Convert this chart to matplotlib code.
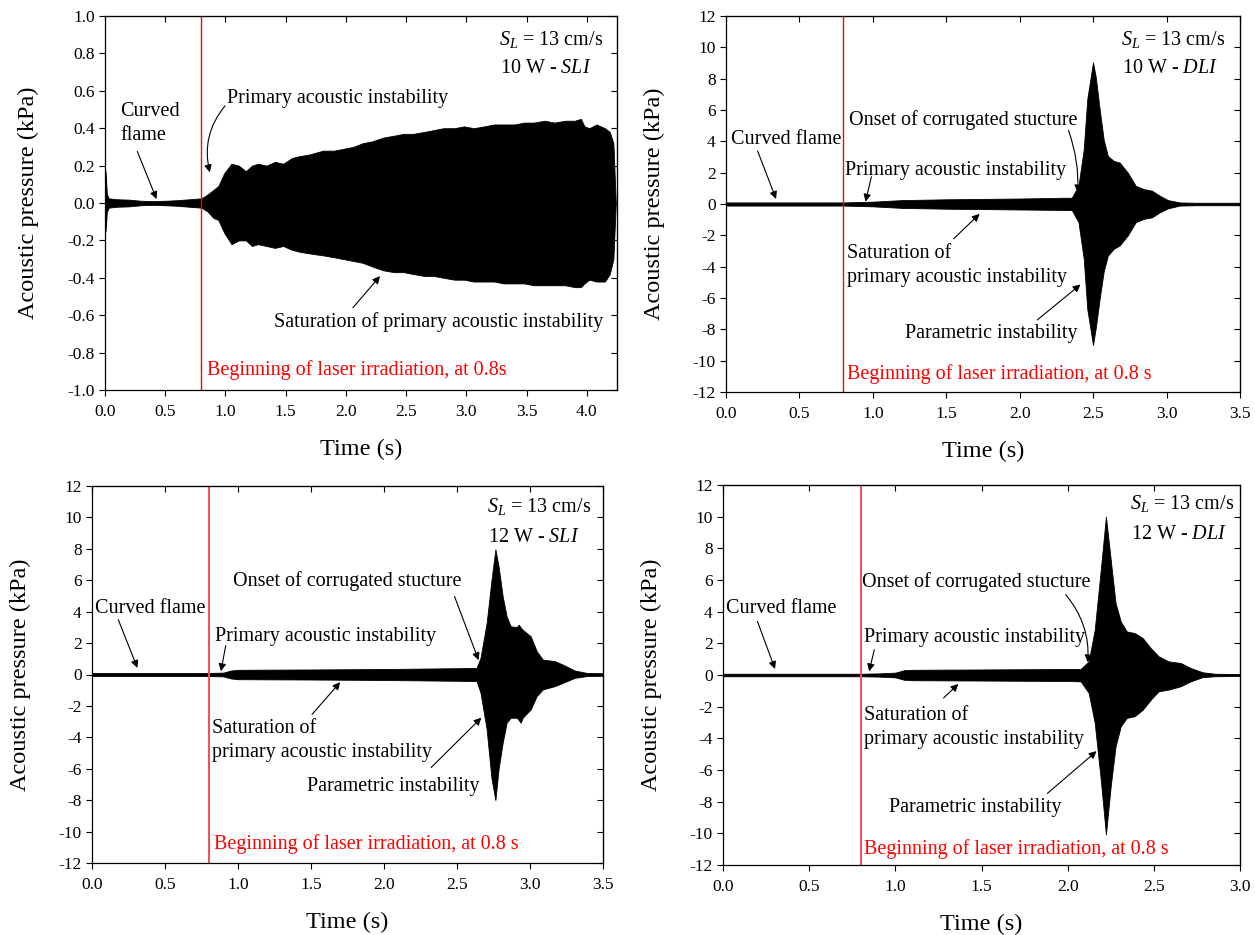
import matplotlib
matplotlib.use("Agg")
import matplotlib.pyplot as plt
import numpy as np

plt.rcParams['font.family'] = ['Liberation Serif', 'DejaVu Serif']
plt.rcParams['mathtext.fontset'] = 'custom'
plt.rcParams['mathtext.rm'] = 'Liberation Serif'
plt.rcParams['mathtext.it'] = 'Liberation Serif:italic'
plt.rcParams['axes.unicode_minus'] = False

# ---------------- data (signal envelopes) ----------------
# Panel 1: 10 W - SLI
p1_t = [0.0, 0.005, 0.015, 0.03, 0.1, 0.2, 0.3, 0.4, 0.5, 0.6, 0.7, 0.8, 0.85, 0.9,
        0.94, 0.99, 1.05, 1.11, 1.17, 1.22, 1.27, 1.34, 1.41, 1.48, 1.55, 1.61, 1.7,
        1.81, 1.9, 1.98, 2.06, 2.14, 2.22, 2.31, 2.4, 2.48, 2.56, 2.65, 2.73, 2.81,
        2.9, 2.98, 3.06, 3.15, 3.23, 3.31, 3.4, 3.48, 3.56, 3.65, 3.73, 3.82, 3.9,
        3.95, 3.98, 4.02, 4.08, 4.15, 4.19, 4.22, 4.24]
p1_upper = [0.0, 0.17, 0.05, 0.025, 0.02, 0.018, 0.012, 0.01, 0.012, 0.015, 0.02, 0.025, 0.045, 0.07,
            0.09, 0.16, 0.21, 0.2, 0.17, 0.2, 0.21, 0.2, 0.22, 0.21, 0.24, 0.25, 0.26,
            0.28, 0.28, 0.29, 0.3, 0.32, 0.33, 0.35, 0.36, 0.37, 0.37, 0.38, 0.39, 0.4,
            0.4, 0.41, 0.4, 0.41, 0.42, 0.42, 0.42, 0.43, 0.43, 0.44, 0.43, 0.44, 0.44,
            0.45, 0.41, 0.40, 0.42, 0.40, 0.38, 0.32, 0.0]
p1_lower = [0.0, -0.15, -0.05, -0.025, -0.02, -0.018, -0.012, -0.01, -0.012, -0.015, -0.02, -0.025, -0.045, -0.08,
            -0.09, -0.16, -0.22, -0.2, -0.2, -0.23, -0.22, -0.23, -0.24, -0.23, -0.25, -0.26, -0.27,
            -0.28, -0.29, -0.3, -0.31, -0.32, -0.34, -0.36, -0.37, -0.37, -0.38, -0.39, -0.39, -0.4,
            -0.41, -0.41, -0.42, -0.42, -0.42, -0.43, -0.43, -0.43, -0.44, -0.44, -0.44, -0.44, -0.45,
            -0.45, -0.43, -0.41, -0.42, -0.42, -0.38, -0.3, 0.0]

# Panel 2: 10 W - DLI
p2_t = [0.0, 0.8, 1.0, 1.2, 1.5, 2.0, 2.3, 2.354, 2.40, 2.436, 2.46, 2.499, 2.518, 2.545,
        2.572, 2.60, 2.64, 2.68, 2.736, 2.79, 2.845, 2.90, 2.954, 3.009, 3.09, 3.2, 3.5]
p2_upper = [0.1, 0.1, 0.15, 0.25, 0.3, 0.35, 0.4, 0.4, 1.16, 3.5, 6.7, 9.04, 8.1, 6.0,
            4.1, 3.07, 2.75, 2.65, 2.0, 1.16, 0.95, 0.85, 0.53, 0.25, 0.1, 0.08, 0.08]
p2_lower = [-0.1, -0.1, -0.15, -0.25, -0.3, -0.35, -0.38, -0.38, -1.16, -3.5, -6.7, -9.0, -7.9, -6.0,
            -4.3, -3.3, -2.86, -2.65, -2.0, -1.16, -0.95, -0.85, -0.53, -0.28, -0.1, -0.08, -0.08]

# Panel 3: 12 W - SLI
p3_t = [0.0, 0.8, 0.9, 0.95, 1.0, 1.5, 2.0, 2.5, 2.634, 2.661, 2.703, 2.736, 2.763, 2.785,
        2.813, 2.84, 2.868, 2.909, 2.923, 2.936, 2.95, 3.005, 3.046, 3.088, 3.17, 3.225,
        3.308, 3.39, 3.5]
p3_upper = [0.1, 0.1, 0.12, 0.25, 0.3, 0.32, 0.35, 0.4, 0.42, 1.06, 3.28, 6.0, 7.97, 6.87,
            4.97, 3.7, 3.07, 3.02, 3.17, 3.0, 2.85, 2.43, 1.48, 0.95, 0.85, 0.63,
            0.25, 0.1, 0.08]
p3_lower = [-0.1, -0.1, -0.12, -0.25, -0.3, -0.32, -0.35, -0.4, -0.42, -1.16, -3.49, -6.6, -7.99, -6.0,
            -4.33, -3.07, -2.75, -2.75, -2.9, -3.07, -2.75, -2.22, -1.37, -0.95, -0.74, -0.53,
            -0.21, -0.1, -0.08]

# Panel 4: 12 W - DLI
p4_t = [0.0, 0.8, 0.9, 1.0, 1.05, 1.1, 1.5, 2.0, 2.075, 2.122, 2.157, 2.192, 2.222, 2.25,
        2.278, 2.308, 2.343, 2.389, 2.436, 2.482, 2.528, 2.586, 2.656, 2.714, 2.784, 2.854, 3.0]
p4_upper = [0.08, 0.08, 0.1, 0.15, 0.3, 0.33, 0.35, 0.38, 0.38, 0.86, 2.86, 6.64, 10.0, 7.27,
            4.54, 3.38, 2.75, 2.65, 2.33, 1.7, 1.18, 0.86, 0.76, 0.44, 0.17, 0.08, 0.06]
p4_lower = [-0.08, -0.08, -0.1, -0.15, -0.3, -0.33, -0.35, -0.38, -0.4, -1.13, -3.03, -6.6, -10.07, -7.0,
            -4.5, -3.24, -2.71, -2.6, -2.19, -1.56, -1.03, -0.92, -0.71, -0.4, -0.13, -0.08, -0.06]

# tick labels
p1_yticklabels = ['-1.0', '-0.8', '-0.6', '-0.4', '-0.2', '0.0', '0.2', '0.4', '0.6', '0.8', '1.0']
kpa_yticklabels = ['-12', '-10', '-8', '-6', '-4', '-2', '0', '2', '4', '6', '8', '10', '12']
xticks_425 = ['0.0', '0.5', '1.0', '1.5', '2.0', '2.5', '3.0', '3.5', '4.0']
xticks_35 = ['0.0', '0.5', '1.0', '1.5', '2.0', '2.5', '3.0', '3.5']
xticks_30 = ['0.0', '0.5', '1.0', '1.5', '2.0', '2.5', '3.0']

laser_time = 0.8

panels = [
    dict(pos=(105, 617, 16, 390), t=p1_t, up=p1_upper, lo=p1_lower,
         xlim=(0, 4.25), xlabels=xticks_425, ylim=(-1, 1), ylabels=p1_yticklabels,
         red='#ff0000', redw=1.0,
         sl=(3.27, 0.875), pw=(3.275, 0.72), pwtext=r'10 W - $SLI$',
         red_text=(0.843, -0.893, 'Beginning of laser irradiation, at 0.8s'),
         texts=[(0.124, 0.425, 'Curved\nflame'),
                (1.014, 0.56, 'Primary acoustic instability'),
                (1.406, -0.637, 'Saturation of primary acoustic instability')],
         arrows=[((0.268, 0.276), (0.428, 0.021), 0.0),
                 ((0.997, 0.52), (0.87, 0.164), 0.25),
                 ((2.058, -0.56), (2.283, -0.391), 0.0)]),
    dict(pos=(726, 1240, 16, 392), t=p2_t, up=p2_upper, lo=p2_lower,
         xlim=(0, 3.5), xlabels=xticks_35, ylim=(-12, 12), ylabels=kpa_yticklabels,
         red='#ff0000', redw=1.0,
         sl=(2.687, 10.52), pw=(2.695, 8.68), pwtext=r'10 W - $DLI$',
         red_text=(0.827, -10.84, 'Beginning of laser irradiation, at 0.8 s'),
         texts=[(0.035, 4.13, 'Curved flame'),
                (0.835, 5.35, 'Onset of corrugated stucture'),
                (0.813, 2.16, 'Primary acoustic instability'),
                (0.821, -3.95, 'Saturation of\nprimary acoustic instability'),
                (1.217, -8.25, 'Parametric instability')],
         arrows=[((0.215, 3.39), (0.341, 0.32), 0.0),
                 ((2.332, 4.7), (2.395, 0.74), -0.1),
                 ((0.99, 1.74), (0.95, 0.15), 0.0),
                 ((1.55, -2.22), (1.727, -0.63), 0.0),
                 ((2.12, -7.4), (2.414, -5.14), 0.0)]),
    dict(pos=(92, 603, 486, 863), t=p3_t, up=p3_upper, lo=p3_lower,
         xlim=(0, 3.5), xlabels=xticks_35, ylim=(-12, 12), ylabels=kpa_yticklabels,
         red='#f05050', redw=1.4,
         sl=(2.703, 10.72), pw=(2.711, 8.71), pwtext=r'12 W - $SLI$',
         red_text=(0.833, -10.78, 'Beginning of laser irradiation, at 0.8 s'),
         texts=[(0.022, 4.17, 'Curved flame'),
                (0.965, 5.96, 'Onset of corrugated stucture'),
                (0.841, 2.43, 'Primary acoustic instability'),
                (0.819, -4.2, 'Saturation of\nprimary acoustic instability'),
                (1.471, -7.12, 'Parametric instability')],
         arrows=[((0.18, 3.49), (0.311, 0.42), 0.0),
                 ((2.483, 4.97), (2.648, 0.91), 0.0),
                 ((0.916, 1.84), (0.883, 0.21), 0.0),
                 ((1.507, -2.54), (1.70, -0.49), 0.0),
                 ((2.323, -5.92), (2.667, -2.75), 0.0)]),
    dict(pos=(723, 1240, 485, 865), t=p4_t, up=p4_upper, lo=p4_lower,
         xlim=(0, 3.0), xlabels=xticks_30, ylim=(-12, 12), ylabels=kpa_yticklabels,
         red='#f05050', redw=1.4,
         sl=(2.359, 10.84), pw=(2.366, 8.85), pwtext=r'12 W - $DLI$',
         red_text=(0.82, -11.01, 'Beginning of laser irradiation, at 0.8 s'),
         texts=[(0.019, 4.22, 'Curved flame'),
                (0.809, 5.84, 'Onset of corrugated stucture'),
                (0.816, 2.37, 'Primary acoustic instability'),
                (0.82, -3.3, 'Saturation of\nprimary acoustic instability'),
                (0.964, -8.39, 'Parametric instability')],
         arrows=[((0.2, 3.38), (0.302, 0.38), 0.0),
                 ((1.989, 5.07), (2.117, 0.8), -0.2),
                 ((0.878, 1.6), (0.848, 0.23), 0.0),
                 ((1.28, -1.45), (1.366, -0.57), 0.0),
                 ((1.882, -7.48), (2.168, -4.81), 0.0)]),
]

W, H = 1255, 935
fig = plt.figure(figsize=(W / 100, H / 100), dpi=100)

FS_TXT = 14.5
FS_TICK = 12.5
FS_LAB = 17.5

for p in panels:
    l, r, t, b = p['pos']
    ax = fig.add_axes([l / W, 1 - b / H, (r - l) / W, (b - t) / H])
    ax.fill_between(p['t'], p['lo'], p['up'], color='black', lw=0.6, edgecolor='black')
    ax.axvline(laser_time, color=p['red'], lw=p['redw'])
    ax.set_xlim(*p['xlim'])
    ax.set_ylim(*p['ylim'])
    xt = [float(s) for s in p['xlabels']]
    yt = [float(s) for s in p['ylabels']]
    ax.set_xticks(xt)
    ax.set_xticklabels(p['xlabels'])
    ax.set_yticks(yt)
    ax.set_yticklabels(p['ylabels'])
    ax.tick_params(direction='out', length=4, width=0.8, labelsize=FS_TICK)
    ax.tick_params(axis='x', pad=6)
    for s in ax.spines.values():
        s.set_linewidth(0.9)
    # mirrored inward ticks on top / right
    sx = ax.secondary_xaxis('top')
    sx.set_xticks(xt)
    sx.tick_params(direction='in', length=4, width=0.8, labeltop=False)
    sy = ax.secondary_yaxis('right')
    sy.set_yticks(yt)
    sy.tick_params(direction='in', length=4, width=0.8, labelright=False)

    ax.set_xlabel('Time (s)', fontsize=FS_LAB, labelpad=14)
    ax.set_ylabel('Acoustic pressure (kPa)', fontsize=FS_LAB, labelpad=20)

    ax.text(p['sl'][0], p['sl'][1], r'$S_L$ = 13 cm/s', fontsize=FS_TXT, ha='left', va='center')
    ax.text(p['pw'][0], p['pw'][1], p['pwtext'], fontsize=FS_TXT, ha='left', va='center')
    rx, ry, rt = p['red_text']
    ax.text(rx, ry, rt, fontsize=FS_TXT, color='#ff0000', ha='left', va='center')
    for (x, y, s) in p['texts']:
        ax.text(x, y, s, fontsize=FS_TXT, ha='left', va='center', linespacing=1.35)
    for (start, tip, rad) in p['arrows']:
        ax.annotate('', xy=tip, xytext=start,
                    arrowprops=dict(arrowstyle='-|>', color='black', lw=0.8,
                                    mutation_scale=11, shrinkA=0, shrinkB=0,
                                    connectionstyle='arc3,rad={}'.format(rad)))

fig.savefig('out.png', dpi=100)
